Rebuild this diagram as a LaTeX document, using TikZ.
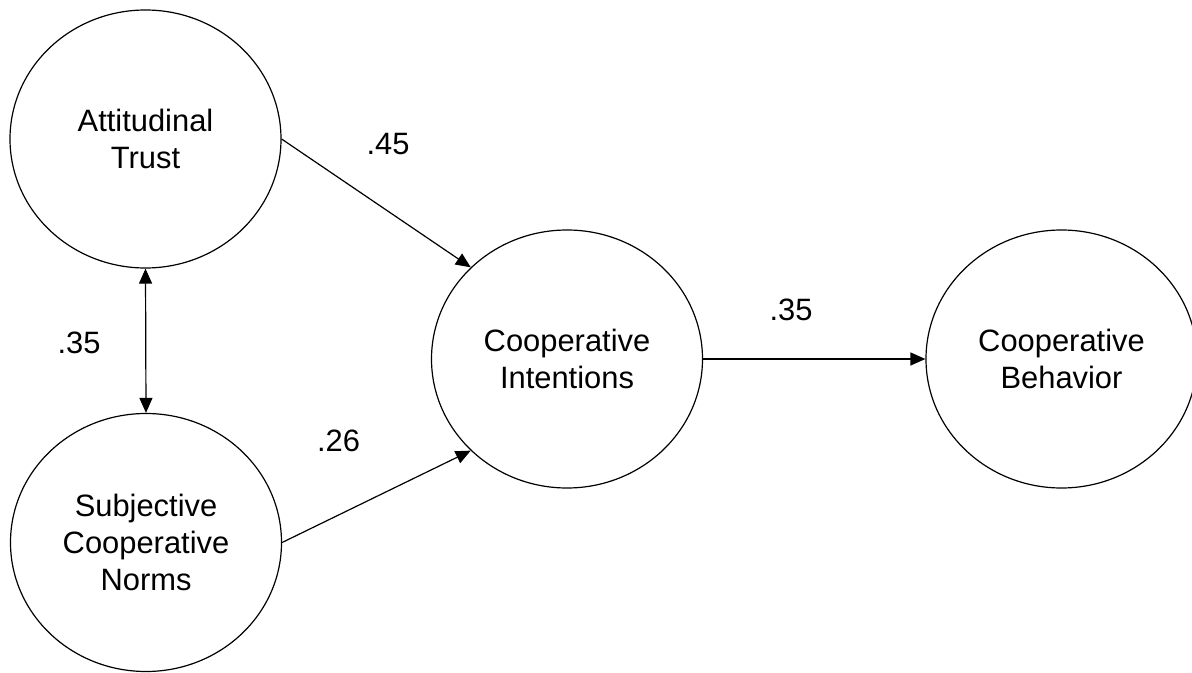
\documentclass[tikz,border=0pt]{standalone}
\usepackage{fontspec}
\setmainfont{Liberation Sans}
\usetikzlibrary{shapes.geometric,arrows.meta}
\begin{document}
\begin{tikzpicture}[x=1bp,y=-1bp,
  latent/.style={draw, ellipse, line width=1.2bp, minimum width=271bp, minimum height=258bp, inner sep=0pt, align=center, font=\fontsize{31}{37.5}\selectfont},
  lbl/.style={font=\fontsize{31}{37.5}\selectfont, inner sep=0pt},
  arr/.style={line width=1.2bp, -{Triangle[length=15bp,width=13bp]}},
  darr/.style={line width=1.2bp, {Triangle[length=15bp,width=13bp]}-{Triangle[length=15bp,width=13bp]}}]
\useasboundingbox (0,0) rectangle (1192,673);
\node[latent] (at) at (145.5,139) {Attitudinal\\Trust};
\node[latent] (sn) at (146,542.5) {Subjective\\Cooperative\\Norms};
\node[latent] (ci) at (567,359) {Cooperative\\Intentions};
\node[latent] (cb) at (1061.5,359) {Cooperative\\Behavior};
\draw[darr] (at.south) -- (sn.north);
\draw[arr] (at.east) -- (ci.north west);
\draw[arr] (sn.east) -- (ci.south west);
\draw[arr] (ci.east) -- (cb.west);
\node[lbl] (l1) at (388,144) {.45};
\node[lbl] (l2) at (79,342.5) {.35};
\node[lbl] (l3) at (338.5,441) {.26};
\node[lbl] (l4) at (791,310) {.35};
\end{tikzpicture}
\end{document}
